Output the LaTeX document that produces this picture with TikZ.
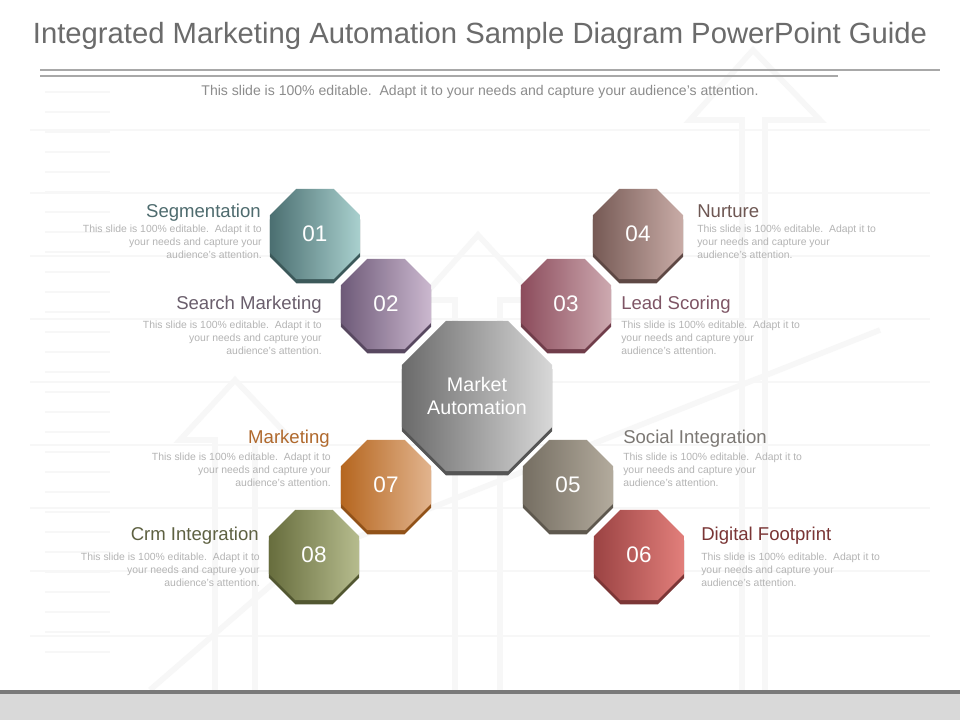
\documentclass[tikz,border=0pt]{standalone}
\usepackage{fontspec}
\setmainfont{Liberation Sans}
\usetikzlibrary{shapes.geometric,shadows}
\definecolor{titlegray}{HTML}{6B6B6B}
\definecolor{subgray}{HTML}{8C8C8C}
\definecolor{bodygray}{HTML}{B4B4B4}
\definecolor{rulegray}{HTML}{A8A8A8}
\definecolor{faint}{HTML}{F7F7F7}
\definecolor{barline}{HTML}{7A7A7A}
\definecolor{barfill}{HTML}{D9D9D9}
% octagon gradients (left / right)
\definecolor{c1l}{HTML}{4B6F71}\definecolor{c1r}{HTML}{A9D0CE}
\definecolor{c2l}{HTML}{6E5A78}\definecolor{c2r}{HTML}{CBB8CF}
\definecolor{c3l}{HTML}{8C4C5C}\definecolor{c3r}{HTML}{CDA9B0}
\definecolor{c4l}{HTML}{765A55}\definecolor{c4r}{HTML}{C9ACA7}
\definecolor{c5l}{HTML}{756E62}\definecolor{c5r}{HTML}{B3AB9D}
\definecolor{c6l}{HTML}{9B4343}\definecolor{c6r}{HTML}{E27F7B}
\definecolor{c7l}{HTML}{B5661F}\definecolor{c7r}{HTML}{E2B48E}
\definecolor{c8l}{HTML}{676D3D}\definecolor{c8r}{HTML}{B6BC8E}
\definecolor{cml}{HTML}{6A6A6A}\definecolor{cmr}{HTML}{D8D8D8}
% heading colours
\definecolor{h1}{HTML}{4E6B6E}
\definecolor{h2}{HTML}{6A5E6C}
\definecolor{h3}{HTML}{7E5565}
\definecolor{h4}{HTML}{6E5753}
\definecolor{h5}{HTML}{7C7874}
\definecolor{h6}{HTML}{7A3535}
\definecolor{h7}{HTML}{B0692D}
\definecolor{h8}{HTML}{5E6142}
\newcommand{\blurb}{This slide is 100\% editable.\ \ Adapt it to\\your needs and capture your\\audience's attention.}

\begin{document}
\begin{tikzpicture}[x=0.025cm, y=-0.025cm,
    oct/.style 2 args={regular polygon, regular polygon sides=8, minimum size=2.44cm,
                 inner sep=0pt, left color=#1, right color=#2, text=white,
                 font=\fontsize{16}{18}\selectfont,
                 drop shadow={shadow xshift=0pt, shadow yshift=-3pt, fill=#1!80!black, opacity=1}},
    head/.style={font=\fontsize{13.2}{15}\selectfont, inner sep=0pt},
    body/.style={font=\fontsize{7.4}{9.25}\selectfont, text=bodygray, inner sep=0pt},
    band/.style={faint, line width=4pt}]

  \useasboundingbox (0,0) rectangle (960,720);
  \fill[white] (0,0) rectangle (960,720);

  % faint background
  \foreach \yy in {130,193,256,319,382,445,508,571,636}
    \draw[faint, line width=1.2pt] (30,\yy) -- (930,\yy);
  \foreach \yy in {92,112,...,660}
    \draw[faint, line width=2pt] (45,\yy) -- (110,\yy);
  \draw[band] (742,690) -- (742,120) -- (690,120) -- (753,50) -- (820,120) -- (765,120) -- (765,690);
  \draw[band] (455,690) -- (455,300) -- (420,300) -- (478,235) -- (538,300) -- (500,300) -- (500,690);
  \draw[band] (215,690) -- (215,440) -- (180,440) -- (235,380) -- (292,440) -- (255,440) -- (255,690);
  \draw[band] (150,690) -- (300,560) -- (880,330);

  % title and rules
  \node[font=\fontsize{20.8}{25}\selectfont, text=titlegray, anchor=base] (title) at (480,44)
    {Integrated Marketing Automation Sample Diagram PowerPoint Guide};
  \draw[rulegray, line width=0.8pt] (40,70) -- (940,70);
  \draw[rulegray, line width=0.8pt] (40,76) -- (838,76);
  \node[font=\fontsize{10}{12}\selectfont, text=subgray, anchor=base] (sub) at (480,96)
    {This slide is 100\% editable.\ \ Adapt it to your needs and capture your audience's attention.};

  % octagons
  \node[oct={c1l}{c1r}] (n01) at (315,234) {01};
  \node[oct={c2l}{c2r}] (n02) at (386,304) {02};
  \node[oct={c3l}{c3r}] (n03) at (566,304) {03};
  \node[oct={c4l}{c4r}] (n04) at (638,234) {04};
  \node[oct={c5l}{c5r}] (n05) at (568,485) {05};
  \node[oct={c6l}{c6r}] (n06) at (639,555) {06};
  \node[oct={c7l}{c7r}] (n07) at (386,485) {07};
  \node[oct={c8l}{c8r}] (n08) at (314,555) {08};
  \node[oct={cml}{cmr}, minimum size=4.06cm, align=center,
        font=\fontsize{14}{17}\selectfont] (core) at (477,396) {Market\\Automation};

  % left labels
  \node[head, text=h1, anchor=base east] (t01) at (261,218) {Segmentation};
  \node[body, anchor=north east, align=right] (b01) at (262,225) {\blurb};
  \node[head, text=h2, anchor=base east] (t02) at (322,310) {Search Marketing};
  \node[body, anchor=north east, align=right] (b02) at (322,321) {\blurb};
  \node[head, text=h7, anchor=base east] (t07) at (330,444) {Marketing};
  \node[body, anchor=north east, align=right] (b07) at (331,453) {\blurb};
  \node[head, text=h8, anchor=base east] (t08) at (259,541) {Crm Integration};
  \node[body, anchor=north east, align=right] (b08) at (260,553) {\blurb};

  % right labels
  \node[head, text=h4, anchor=base west] (t04) at (697,218) {Nurture};
  \node[body, anchor=north west, align=left] (b04) at (697,225) {\blurb};
  \node[head, text=h3, anchor=base west] (t03) at (621,310) {Lead Scoring};
  \node[body, anchor=north west, align=left] (b03) at (621,321) {\blurb};
  \node[head, text=h5, anchor=base west] (t05) at (623,444) {Social Integration};
  \node[body, anchor=north west, align=left] (b05) at (623,453) {\blurb};
  \node[head, text=h6, anchor=base west] (t06) at (701,541) {Digital Footprint};
  \node[body, anchor=north west, align=left] (b06) at (701,553) {\blurb};

  % bottom bar
  \fill[barline] (0,690) rectangle (960,694);
  \fill[barfill] (0,694) rectangle (960,720);
\end{tikzpicture}
\end{document}
